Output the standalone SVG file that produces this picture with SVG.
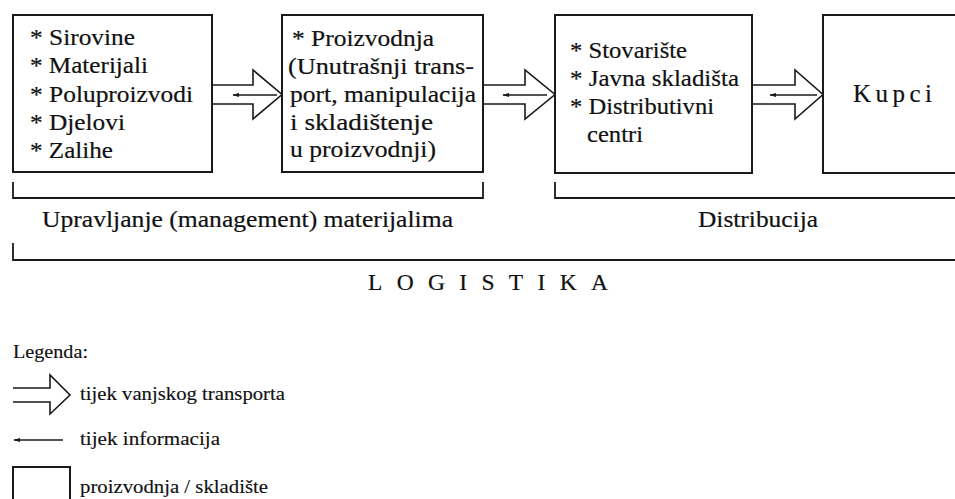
<svg xmlns="http://www.w3.org/2000/svg" width="955" height="499" viewBox="0 0 955 499">
<defs>
<style>
.box{fill:#fff;stroke:#1a1a1a;stroke-width:2}
.t{font-family:"Liberation Serif","Times New Roman",serif;font-size:23.5px;fill:#111;stroke:#111;stroke-width:0.2}
.s{font-family:"Liberation Serif","Times New Roman",serif;font-size:19px;fill:#111;stroke:#111;stroke-width:0.15}
.arr{fill:#fff;stroke:#1a1a1a;stroke-width:1.6;stroke-linejoin:miter}
.info{stroke:#1a1a1a;stroke-width:1.5;fill:none;marker-start:url(#ah)}
.br{fill:none;stroke:#1a1a1a;stroke-width:1.8}
</style>
<marker id="ah" viewBox="0 0 10 6" refX="1" refY="3" markerWidth="7" markerHeight="4.2" markerUnits="userSpaceOnUse" orient="auto">
<path d="M10,0 L0,3 L10,6 Z" fill="#1a1a1a"/>
</marker>
</defs>
<rect width="955" height="499" fill="#fff"/>

<g id="connectors">
<path class="arr" d="M212,85 H253 V70 L282,94.5 L253,119 V104 H212"/>
<line class="info" x1="233" y1="95" x2="277" y2="95"/>
<path class="arr" d="M483,85 H525 V70 L555,94.5 L525,119 V104 H483"/>
<line class="info" x1="503" y1="95" x2="547" y2="95"/>
<path class="arr" d="M752,85 H795 V70 L823,94.5 L795,119 V104 H752"/>
<line class="info" x1="770" y1="95" x2="817" y2="95"/>
</g>

<g id="node-materijali">
<rect class="box" x="13" y="15" width="199" height="157"/>
<text class="t" x="30" y="45" textLength="105" lengthAdjust="spacingAndGlyphs">* Sirovine</text>
<text class="t" x="30" y="73" textLength="118" lengthAdjust="spacingAndGlyphs">* Materijali</text>
<text class="t" x="30" y="102" textLength="163" lengthAdjust="spacingAndGlyphs">* Poluproizvodi</text>
<text class="t" x="30" y="130" textLength="95" lengthAdjust="spacingAndGlyphs">* Djelovi</text>
<text class="t" x="30" y="158" textLength="83" lengthAdjust="spacingAndGlyphs">* Zalihe</text>
</g>

<g id="node-proizvodnja">
<rect class="box" x="282" y="15" width="201" height="157"/>
<text class="t" x="292" y="46" textLength="142" lengthAdjust="spacingAndGlyphs">* Proizvodnja</text>
<text class="t" x="288" y="74" textLength="186" lengthAdjust="spacingAndGlyphs">(Unutrašnji trans-</text>
<text class="t" x="290" y="102" textLength="186" lengthAdjust="spacingAndGlyphs">port, manipulacija</text>
<text class="t" x="290" y="130" textLength="143" lengthAdjust="spacingAndGlyphs">i skladištenje</text>
<text class="t" x="290" y="157" textLength="146" lengthAdjust="spacingAndGlyphs">u proizvodnji)</text>
</g>

<g id="node-distribucija">
<rect class="box" x="555" y="15" width="197" height="158"/>
<text class="t" x="570" y="58" textLength="117" lengthAdjust="spacingAndGlyphs">* Stovarište</text>
<text class="t" x="570" y="86" textLength="169" lengthAdjust="spacingAndGlyphs">* Javna skladišta</text>
<text class="t" x="570" y="114" textLength="144" lengthAdjust="spacingAndGlyphs">* Distributivni</text>
<text class="t" x="587" y="142" textLength="56" lengthAdjust="spacingAndGlyphs">centri</text>
</g>

<g id="node-kupci">
<rect class="box" x="823" y="15" width="150" height="158"/>
<text class="t" x="853" y="102" style="font-size:25px" textLength="79" lengthAdjust="spacing">Kupci</text>
</g>

<g id="brackets">
<path class="br" d="M13,182 V198 H483 V182"/>
<path class="br" d="M555,182 V198 H960"/>
<text class="t" x="42" y="227" textLength="411" lengthAdjust="spacingAndGlyphs">Upravljanje (management) materijalima</text>
<text class="t" x="698" y="227" textLength="120" lengthAdjust="spacingAndGlyphs">Distribucija</text>
<path class="br" d="M13,243 V260 H960"/>
<text class="t" x="368" y="290" textLength="240" lengthAdjust="spacing">LOGISTIKA</text>
</g>

<g id="legend">
<text class="s" x="13" y="358" textLength="75" lengthAdjust="spacingAndGlyphs">Legenda:</text>
<path class="arr" d="M13,388 H50 V375 L70,395 L50,414 V402 H13"/>
<text class="s" x="80" y="400" textLength="205" lengthAdjust="spacingAndGlyphs">tijek vanjskog transporta</text>
<line class="info" x1="14" y1="440" x2="63" y2="440"/>
<text class="s" x="80" y="445" textLength="140" lengthAdjust="spacingAndGlyphs">tijek informacija</text>
<rect class="box" x="13" y="467" width="57" height="45"/>
<text class="s" x="80" y="493" textLength="188" lengthAdjust="spacingAndGlyphs">proizvodnja / skladište</text>
</g>
</svg>
